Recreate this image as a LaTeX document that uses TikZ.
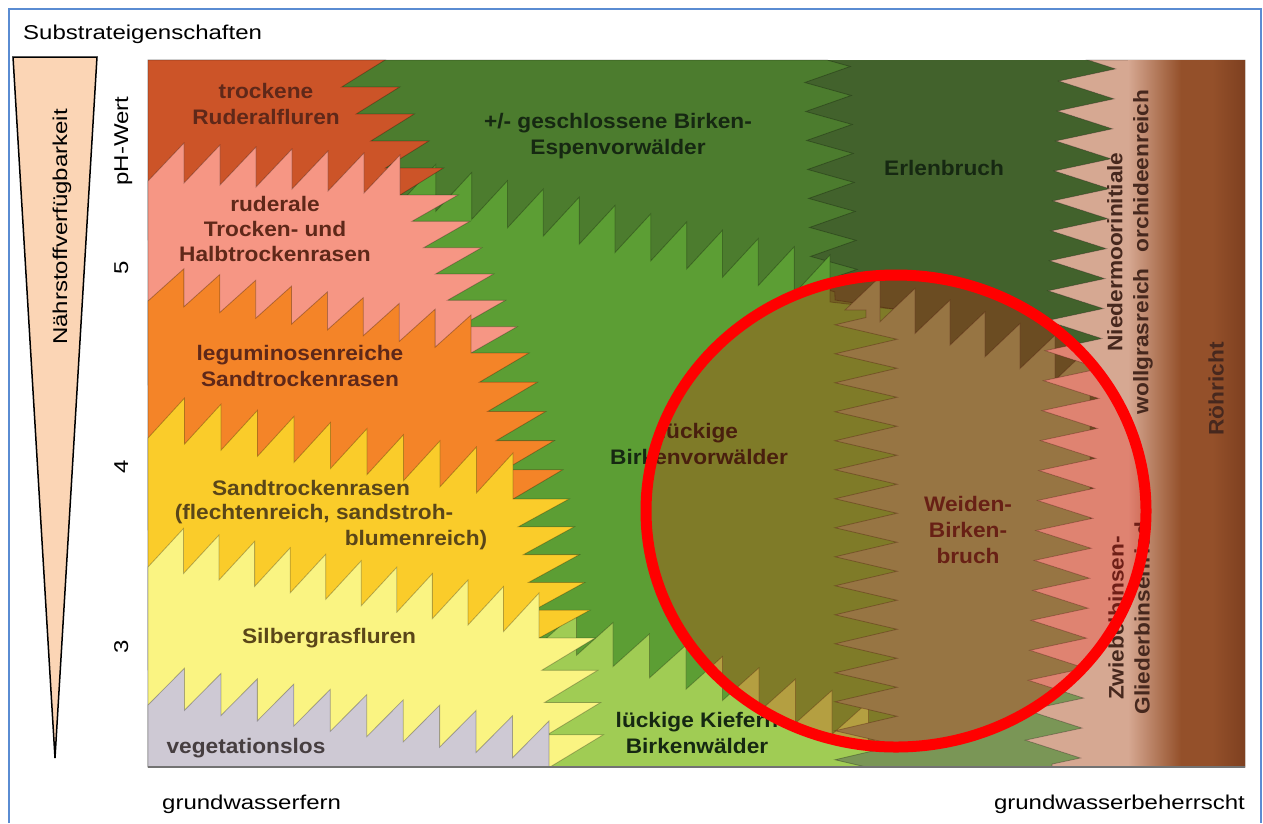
\documentclass[tikz,border=0pt]{standalone}
\usepackage{fontspec}
\setmainfont{Liberation Sans}
\newfontfamily\regf[FakeStretch=1.2]{Liberation Sans}
\newfontfamily\labf[FakeStretch=1.08]{Liberation Sans}
\usetikzlibrary{calc,decorations.pathmorphing}
\definecolor{olive}{RGB}{66,98,44}
\definecolor{gesch}{RGB}{76,124,46}
\definecolor{lgreen}{RGB}{92,158,52}
\definecolor{kiefer}{RGB}{160,204,84}
\definecolor{sage}{RGB}{122,150,86}
\definecolor{beige}{RGB}{214,168,146}
\definecolor{rbrown}{RGB}{148,80,42}
\definecolor{rbrowndk}{RGB}{126,64,32}
\definecolor{rred}{RGB}{204,84,40}
\definecolor{rpink}{RGB}{246,150,132}
\definecolor{rorange}{RGB}{244,132,40}
\definecolor{rgold}{RGB}{250,204,42}
\definecolor{rpale}{RGB}{250,244,130}
\definecolor{rgrey}{RGB}{206,201,212}
\definecolor{peach}{RGB}{251,213,181}
\definecolor{frameblue}{RGB}{90,140,210}
\definecolor{tA}{RGB}{95,40,25}
\definecolor{tB}{RGB}{90,70,25}
\definecolor{tG}{RGB}{70,62,64}
\definecolor{tD}{RGB}{22,40,18}
\definecolor{tW}{RGB}{62,42,28}
\definecolor{tN}{RGB}{70,40,30}
% saw teeth pointing up, shape /|
\newcommand\hsaw[4]{\foreach \k in {1,...,#3}{ -- ($(#1)!{\k/#3}!(#2)+(0,-#4)$) -- ($(#1)!{\k/#3}!(#2)$) }}
% saw teeth pointing right, horizontal upper edge
\newcommand\rsaw[4]{\foreach \k in {1,...,#3}{ -- ($(#1)!{(\k-1)/#3}!(#2)+(#4,0)$) -- ($(#1)!{\k/#3}!(#2)$) }}
\begin{document}
\begin{tikzpicture}[x=1pt,y=-1pt,
  region/.style={draw=black,draw opacity=0.28,line width=0.8pt},
  lab/.style={font={\labf\bfseries\fontsize{21}{26}\selectfont},align=center,inner sep=0pt},
  reg/.style={font={\regf\fontsize{20}{24}\selectfont},inner sep=0pt,text=black}]
\useasboundingbox (0,0) rectangle (1263,823);
\fill[white] (0,0) rectangle (1263,823);
% panel background (Erlenbruch)
\fill[olive] (148,60) rectangle (1245,767);
% geschlossene Birken-Espenvorwaelder
\path[region,fill=gesch] (148,60) -- (827,60)
  decorate[decoration={zigzag,segment length=29pt,amplitude=23pt}]{-- (835,300)}
  -- (900,310) -- (900,767) -- (148,767) -- cycle;
% lueckige Birkenvorwaelder
\path[region,fill=lgreen] (400,203) \hsaw{400,203}{830,302}{12}{47}
  -- (900,310) -- (900,767) -- (400,767) -- cycle;
% lueckige Kiefern-Birkenwaelder
\path[region,fill=kiefer] (540,644) \hsaw{540,644}{905,757}{10}{44}
  -- (905,767) -- (540,767) -- cycle;
% Weiden-Birkenbruch
\path[region,fill=sage] (845,310) \hsaw{845,310}{1090,392}{7}{45}
  -- (1090,767) -- (866,767)
  decorate[decoration={zigzag,segment length=29pt,amplitude=31pt}]{-- (866,310)} -- cycle;
% right columns
\path[region,fill=beige] (1088,60)
  decorate[decoration={zigzag,segment length=30pt,amplitude=28pt}]{-- (1052,767)}
  -- (1245,767) -- (1245,60) -- cycle;
\fill[rbrown] (1180,60) rectangle (1245,767);
\shade[left color=beige,right color=rbrown] (1128,60) rectangle (1181,767);
\shade[left color=rbrown,right color=rbrowndk] (1212,60) rectangle (1245,767);
% left bands
\path[region,fill=rred] (148,60) -- (327,60) \rsaw{327,60}{400,195}{5}{58}
  -- (400,240) -- (148,240) -- cycle;
\path[region,fill=rpink] (148,181) \hsaw{148,181}{400,195}{7}{40}
  \rsaw{400,195}{471,353}{6}{58} -- (471,385) -- (148,385) -- cycle;
\path[region,fill=rorange] (148,301) \hsaw{148,301}{471,353}{9}{38}
  \rsaw{471,353}{513,499}{5}{58} -- (513,530) -- (148,530) -- cycle;
\path[region,fill=rgold] (148,438) \hsaw{148,438}{513,499}{10}{46}
  \rsaw{513,499}{539,638}{5}{56} -- (539,670) -- (148,670) -- cycle;
\path[region,fill=rpale] (148,567) \hsaw{148,567}{539,638}{11}{45}
  \rsaw{539,638}{550,767}{4}{56} -- (148,767) -- cycle;
\path[region,fill=rgrey] (148,705) \hsaw{148,705}{549,763}{11}{42}
  -- (549,767) -- (148,767) -- cycle;
% labels in the figure
\node[lab,text=tA] (l1) at (266,104) {trockene\\Ruderalfluren};
\node[lab,text=tA,font={\labf\bfseries\fontsize{21}{25}\selectfont}] (l2) at (275,229) {ruderale\\Trocken- und\\Halbtrockenrasen};
\node[lab,text=tA] (l3) at (300,366) {leguminosenreiche\\Sandtrockenrasen};
\node[lab,text=tB] (l4a) at (311,488) {Sandtrockenrasen};
\node[lab,text=tB] (l4b) at (314,514) {(flechtenreich, sandstroh-};
\node[lab,text=tB] (l4c) at (416,540) {blumenreich)};
\node[lab,text=tB] (l5) at (329,638) {Silbergrasfluren};
\node[lab,text=tG] (l6) at (246,748) {vegetationslos};
\node[lab,text=tD] (l7) at (618,136) {+/- geschlossene Birken-\\Espenvorwälder};
\node[lab,text=tD] (l8) at (944,168) {Erlenbruch};
\node[lab,text=tD] (l9) at (699,444) {lückige\\Birkenvorwälder};
\node[lab,text=tW] (l10) at (968,530) {Weiden-\\Birken-\\bruch};
\node[lab,text=tD] (l11) at (697,733) {lückige Kiefern\\Birkenwälder};
\node[lab,text=tN,rotate=90] (l12) at (1130,252) {Niedermoorinitiale\\wollgrasreich\hspace{16pt}orchideenreich};
\node[lab,text=tN,rotate=90] (l13) at (1129,618) {Zwiebelbinsen-\\Gliederbinsenried};
\node[lab,text=tN,rotate=90] (l14) at (1216,389) {Röhricht};
% highlighted circle
\fill[red,opacity=0.22] (896,511) ellipse [x radius=250pt,y radius=236pt];
\draw[red,line width=11pt] (896,511) ellipse [x radius=250pt,y radius=236pt];
\draw[black!55,line width=1.5pt] (148,767) -- (1245,767);
% outside elements
\draw[frameblue,line width=2pt] (9,823) -- (9,9) -- (1261,9) -- (1261,823);
\node[reg,anchor=base west] (title) at (23,39) {Substrateigenschaften};
\draw[fill=peach,line width=1.5pt,line join=miter] (13,57) -- (97,57) -- (55,758) -- cycle;
\node[reg,anchor=base,rotate=90] (naehr) at (67,227) {Nährstoffverfügbarkeit};
\node[reg,anchor=base,rotate=90] (ph) at (128,141) {pH-Wert};
\node[reg,anchor=base,rotate=90] (p5) at (128,268) {5};
\node[reg,anchor=base,rotate=90] (p4) at (128,467) {4};
\node[reg,anchor=base,rotate=90] (p3) at (128,647) {3};
\node[reg,anchor=base west] (gwf) at (162,809) {grundwasserfern};
\node[reg,anchor=base east] (gwb) at (1245,809) {grundwasserbeherrscht};
\end{tikzpicture}
\end{document}
